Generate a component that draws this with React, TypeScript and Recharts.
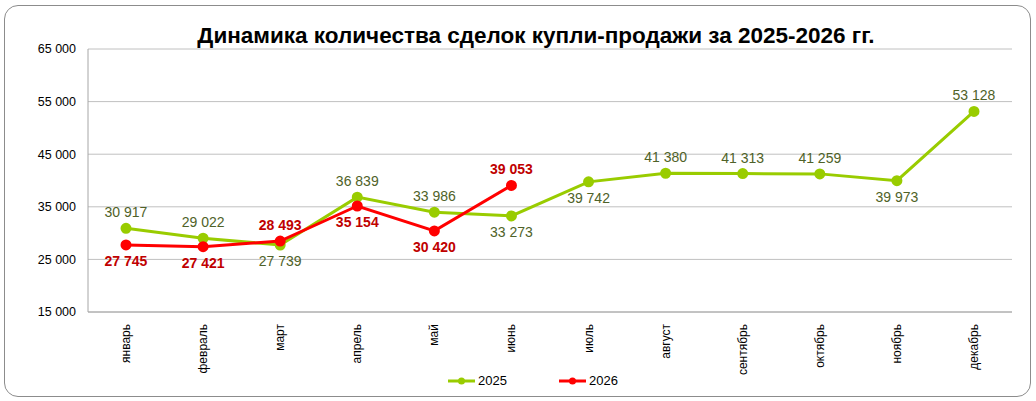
import React from 'react';
import { LineChart, Line, XAxis, YAxis, CartesianGrid, LabelList } from 'recharts';

// Месяцы и значения по годам
const months = [
  'январь', 'февраль', 'март', 'апрель', 'май', 'июнь',
  'июль', 'август', 'сентябрь', 'октябрь', 'ноябрь', 'декабрь',
];
const deals2025 = [30917, 29022, 27739, 36839, 33986, 33273, 39742, 41380, 41313, 41259, 39973, 53128];
const deals2026 = [27745, 27421, 28493, 35154, 30420, 39053];
const yTicks = [15000, 25000, 35000, 45000, 55000, 65000];

// where each data label sits relative to its point
const side2025 = ['up', 'up', 'down', 'up', 'up', 'down', 'down', 'up', 'up', 'up', 'down', 'up'];
const side2026 = ['down', 'down', 'up', 'down', 'down', 'up'];

const data = months.map((m, i) => ({
  month: m,
  y2025: deals2025[i],
  y2026: i < deals2026.length ? deals2026[i] : null,
}));

const GREEN = '#99CC00';
const RED = '#FF0000';
const FONT = '"Liberation Sans", Arial, sans-serif';

const fmt = (v: number) => String(v).replace(/\B(?=(\d{3})+(?!\d))/g, ' ');

const makeLabel = (sides: string[], color: string, bold: boolean) => (props: any) => {
  const { x, y, value, index } = props;
  if (value == null) return null;
  const up = sides[index] === 'up';
  return (
    <text
      x={x}
      y={up ? y - 11 : y + 21}
      textAnchor="middle"
      fill={color}
      fontSize={14}
      fontWeight={bold ? 'bold' : 'normal'}
      fontFamily={FONT}
    >
      {fmt(value)}
    </text>
  );
};

const MonthTick = (props: any) => {
  const { x, y, payload } = props;
  return (
    <text
      transform={`translate(${x + 4},${y + 4}) rotate(-90)`}
      textAnchor="end"
      fontSize={12}
      fill="#000"
      fontFamily={FONT}
    >
      {payload.value}
    </text>
  );
};

const LegendBox = () => (
  <div style={{ display: 'flex', justifyContent: 'center', gap: 52, fontFamily: FONT, fontSize: 13, paddingLeft: 30 }}>
    {[
      { name: '2025', color: GREEN },
      { name: '2026', color: RED },
    ].map((it) => (
      <div key={it.name} style={{ display: 'flex', alignItems: 'center' }}>
        <svg width={27} height={10}>
          <line x1={0} y1={5} x2={27} y2={5} stroke={it.color} strokeWidth={3} />
          <circle cx={13.5} cy={5} r={3.5} fill={it.color} />
        </svg>
        <span style={{ marginLeft: 3 }}>{it.name}</span>
      </div>
    ))}
  </div>
);

export default function App() {
  return (
    <div style={{ position: 'absolute', left: 0, top: 0, width: 1036, height: 401, background: '#fff' }}>
      <div
        style={{
          position: 'absolute',
          left: 4,
          top: 5,
          width: 1027,
          height: 392,
          boxSizing: 'border-box',
          border: '1.5px solid #8c8c8c',
          borderRadius: 14,
        }}
      />
      <div
        style={{
          position: 'absolute',
          left: 0,
          top: 23,
          width: 1072,
          textAlign: 'center',
          fontFamily: FONT,
          fontWeight: 'bold',
          fontSize: 22.5,
          color: '#000',
        }}
      >
        Динамика количества сделок купли-продажи за 2025-2026 гг.
      </div>
      <div style={{ position: 'absolute', left: 0, top: 0 }}>
        <LineChart width={1036} height={401} data={data} margin={{ top: 49, right: 24, bottom: 29, left: 8 }}>
          <CartesianGrid vertical={false} stroke="#c0c0c0" />
          <XAxis
            dataKey="month"
            interval={0}
            tick={<MonthTick />}
            tickLine={false}
            axisLine={{ stroke: '#a6a6a6' }}
            padding={{ left: 38, right: 38 }}
            height={60}
          />
          <YAxis
            domain={[15000, 65000]}
            ticks={yTicks}
            tickFormatter={fmt}
            width={80}
            tickLine={false}
            axisLine={{ stroke: '#a6a6a6' }}
            tick={{ fontSize: 12.5, fill: '#000', fontFamily: FONT, dx: -4 }}
          />
          <Line
            type="linear"
            dataKey="y2025"
            name="2025"
            stroke={GREEN}
            strokeWidth={3}
            dot={{ r: 4, fill: GREEN, stroke: GREEN }}
            isAnimationActive={false}
          >
            <LabelList dataKey="y2025" content={makeLabel(side2025, '#4F6228', false)} />
          </Line>
          <Line
            type="linear"
            dataKey="y2026"
            name="2026"
            stroke={RED}
            strokeWidth={3}
            dot={{ r: 4, fill: RED, stroke: RED }}
            connectNulls={false}
            isAnimationActive={false}
          >
            <LabelList dataKey="y2026" content={makeLabel(side2026, '#C00000', true)} />
          </Line>
        </LineChart>
      </div>
      <div style={{ position: 'absolute', left: 0, top: 373, width: 1036 }}>
        <LegendBox />
      </div>
    </div>
  );
}
